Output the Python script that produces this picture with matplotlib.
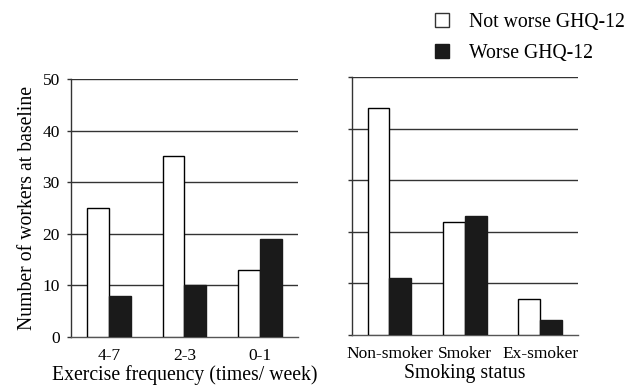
import matplotlib
matplotlib.use("Agg")
import matplotlib.pyplot as plt
import numpy as np
from matplotlib.patches import Patch

plt.rcParams['font.family'] = ['Liberation Serif', 'DejaVu Serif']

exercise_cats = ["4-7", "2-3", "0-1"]
exercise_not_worse = [25, 35, 13]
exercise_worse = [8, 10, 19]

smoking_cats = ["Non-smoker", "Smoker", "Ex-smoker"]
smoking_not_worse = [44, 22, 7]
smoking_worse = [11, 23, 3]

series_labels = ["Not worse GHQ-12", "Worse GHQ-12"]
yticks = [0, 10, 20, 30, 40, 50]

fig = plt.figure(figsize=(6.43, 3.92), dpi=100)
ax1 = fig.add_axes([0.1104, 0.1403, 0.353, 0.658])
ax2 = fig.add_axes([0.547, 0.1454, 0.3515, 0.658])

line_col = '#333333'
fs = 12.5
lfs = 14.2
w = 0.29

def draw(ax, cats, a, b, xlabel, show_labels):
    x = np.arange(len(cats))
    ax.bar(x - w/2, a, w, facecolor='white', edgecolor='black', linewidth=1.0, zorder=3)
    ax.bar(x + w/2, b, w, facecolor='#1a1a1a', edgecolor='#1a1a1a', linewidth=1.0, zorder=3)
    ax.set_xlim(-0.5, len(cats) - 0.5)
    ax.set_ylim(0, 50)
    ax.set_yticks(yticks)
    for v in yticks[1:]:
        ax.axhline(v, color=line_col, linewidth=1.0, zorder=1)
    for s in ['top', 'right']:
        ax.spines[s].set_visible(False)
    ax.spines['left'].set_color(line_col)
    ax.spines['bottom'].set_color('#555555')
    ax.spines['left'].set_linewidth(1.0)
    ax.spines['bottom'].set_linewidth(1.0)
    ax.set_xticks(x)
    ax.set_xticklabels(cats, fontsize=fs)
    ax.tick_params(axis='x', length=0, pad=8)
    ax.tick_params(axis='y', length=3, color=line_col, width=1.0, labelsize=fs, pad=5)
    if not show_labels:
        ax.set_yticklabels([])
    ax.set_xlabel(xlabel, fontsize=lfs, labelpad=1)

draw(ax1, exercise_cats, exercise_not_worse, exercise_worse,
     "Exercise frequency (times/ week)", True)
ax1.set_ylabel("Number of workers at baseline", fontsize=lfs, labelpad=4)
draw(ax2, smoking_cats, smoking_not_worse, smoking_worse, "Smoking status", False)

handles = [Patch(facecolor='white', edgecolor='#333333', linewidth=1.0),
           Patch(facecolor='#1a1a1a', edgecolor='#1a1a1a')]
fig.legend(handles, series_labels, loc='upper left', bbox_to_anchor=(0.668, 0.982),
           frameon=False, fontsize=lfs, handlelength=0.68, handleheight=0.68,
           handletextpad=1.0, labelspacing=0.6, borderaxespad=0, borderpad=0.3)

fig.savefig("out.png", dpi=100)
